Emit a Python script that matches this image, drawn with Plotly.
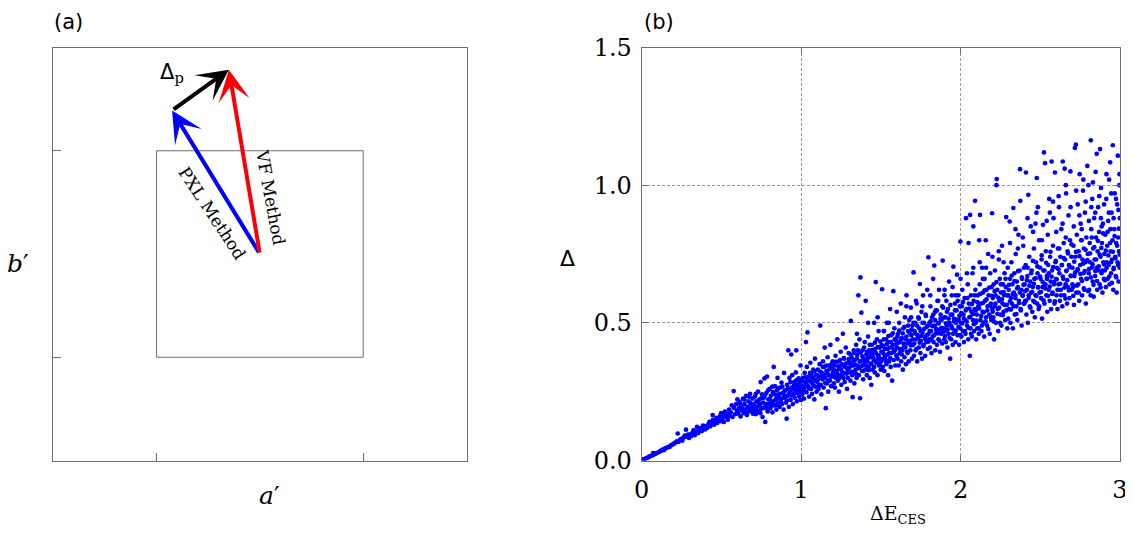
import plotly.graph_objects as go

# the page adds an 8px body margin, so the figure is drawn 8px smaller and
# every target pixel position is shifted by that offset
OFF = 8
W, H = 1133 - OFF, 540 - OFF

# ---------------- data: panel (b) scatter ----------------
pts_0 = [
    (0.005,0.002),(0.012,0.004),(0.02,0.006),(0.028,0.008),(0.035,0.01),(0.043,0.012),(0.05,0.015),
    (0.06,0.017),(0.068,0.019),(0.07,0.02),(0.072,0.027),(0.075,0.022),(0.078,0.025),(0.082,0.024),
    (0.09,0.026),(0.097,0.028),
    (0.11,0.031),(0.118,0.035),(0.125,0.036),(0.13,0.04),(0.14,0.038),(0.145,0.043),(0.152,0.045),
    (0.16,0.047),(0.168,0.05),(0.175,0.049),(0.183,0.055),(0.19,0.057),(0.198,0.06),
    (0.205,0.062),(0.213,0.066),(0.22,0.07),(0.226,0.098),(0.232,0.068),(0.24,0.075),(0.248,0.079),
    (0.255,0.072),(0.262,0.083),(0.27,0.09),(0.278,0.112),(0.283,0.086),(0.29,0.094),(0.297,0.082),
    (0.305,0.095),(0.31,0.088),(0.318,0.1),(0.325,0.11),(0.333,0.092),(0.34,0.105),(0.347,0.122),
    (0.355,0.1),(0.362,0.112),(0.37,0.118),(0.377,0.107),(0.385,0.127),(0.392,0.12),(0.398,0.113),
    (0.405,0.125),(0.41,0.118),(0.418,0.132),(0.425,0.14),(0.43,0.124),(0.438,0.135),(0.445,0.165),
    (0.447,0.148),(0.455,0.13),(0.462,0.142),(0.468,0.155),(0.475,0.137),(0.482,0.15),(0.49,0.16),
    (0.495,0.143),(0.498,0.172),
    (0.505,0.152),(0.51,0.165),(0.515,0.14),(0.522,0.178),(0.528,0.158),(0.535,0.17),(0.54,0.148),
    (0.548,0.185),(0.552,0.162),(0.558,0.175),(0.565,0.2),(0.57,0.158),(0.577,0.252),(0.58,0.19),
    (0.585,0.168),(0.592,0.205),(0.598,0.18),(0.6,0.222),
]
pts_1 = [
    (0.605,0.17),(0.61,0.19),(0.615,0.213),(0.62,0.16),(0.626,0.182),(0.63,0.198),(0.636,0.225),
    (0.64,0.172),(0.645,0.205),(0.65,0.185),(0.655,0.235),(0.66,0.165),(0.664,0.195),(0.67,0.215),
    (0.675,0.178),(0.68,0.242),(0.685,0.2),(0.69,0.188),(0.695,0.225),(0.698,0.17),
    (0.702,0.205),(0.706,0.185),(0.71,0.232),(0.715,0.168),(0.72,0.215),(0.724,0.195),(0.73,0.25),
    (0.733,0.178),(0.738,0.222),(0.742,0.2),(0.746,0.285),(0.75,0.188),(0.755,0.24),(0.758,0.158),
    (0.762,0.21),(0.766,0.228),(0.77,0.298),(0.775,0.14),(0.778,0.195),(0.782,0.245),(0.786,0.305),
    (0.79,0.178),(0.794,0.222),(0.798,0.205),
    (0.802,0.26),(0.806,0.19),(0.81,0.235),(0.815,0.212),(0.82,0.175),(0.823,0.248),(0.828,0.34),
    (0.832,0.2),(0.836,0.27),(0.84,0.222),(0.845,0.185),(0.848,0.255),(0.852,0.3),(0.856,0.21),
    (0.86,0.238),(0.865,0.195),(0.868,0.265),(0.872,0.225),(0.877,0.283),(0.88,0.205),(0.885,0.245),
    (0.89,0.185),(0.893,0.318),(0.897,0.23),
    (0.902,0.255),(0.905,0.21),(0.909,0.152),(0.912,0.275),(0.916,0.235),(0.92,0.4),(0.923,0.195),
    (0.927,0.3),(0.93,0.248),(0.934,0.22),(0.938,0.385),(0.94,0.265),(0.944,0.31),(0.948,0.205),
    (0.952,0.24),(0.956,0.285),(0.96,0.228),(0.963,0.26),(0.967,0.32),(0.97,0.4),(0.973,0.215),
    (0.977,0.275),(0.98,0.245),(0.984,0.298),(0.988,0.232),(0.992,0.262),(0.996,0.345),(0.999,0.22),
    (1.003,0.27),(1.007,0.24),(1.01,0.3),(1.014,0.255),(1.018,0.225),(1.022,0.318),(1.025,0.285),
    (1.03,0.43),(1.033,0.248),(1.036,0.34),(1.04,0.465),(1.043,0.27),(1.047,0.305),(1.05,0.232),
    (1.054,0.29),(1.058,0.355),(1.062,0.26),(1.065,0.315),(1.069,0.242),(1.072,0.278),(1.076,0.33),
    (1.08,0.295),(1.083,0.222),(1.087,0.37),(1.09,0.268),(1.094,0.31),(1.097,0.25),
    (1.102,0.285),(1.105,0.33),(1.109,0.26),(1.112,0.305),(1.116,0.35),(1.12,0.49),(1.123,0.275),
    (1.127,0.24),(1.13,0.318),(1.134,0.295),(1.137,0.36),(1.141,0.265),(1.145,0.34),(1.148,0.41),
    (1.152,0.3),(1.155,0.19),(1.159,0.325),(1.162,0.28),(1.166,0.375),(1.17,0.25),(1.173,0.31),
    (1.177,0.345),(1.18,0.29),(1.184,0.42),(1.188,0.27),(1.191,0.335),(1.195,0.305),(1.198,0.36),
]
pts_2 = [
    (1.202,0.31),(1.205,0.28),(1.209,0.345),(1.212,0.265),(1.216,0.38),(1.22,0.3),(1.223,0.325),
    (1.227,0.44),(1.23,0.29),(1.234,0.36),(1.237,0.25),(1.241,0.335),(1.245,0.31),(1.248,0.395),
    (1.252,0.275),(1.255,0.35),(1.259,0.32),(1.262,0.46),(1.266,0.3),(1.27,0.37),(1.273,0.285),
    (1.277,0.34),(1.28,0.41),(1.284,0.315),(1.288,0.26),(1.291,0.355),(1.295,0.33),(1.298,0.39),
    (1.302,0.32),(1.305,0.355),(1.309,0.29),(1.312,0.507),(1.316,0.375),(1.32,0.31),(1.323,0.23),
    (1.327,0.345),(1.33,0.4),(1.334,0.28),(1.337,0.365),(1.341,0.33),(1.345,0.42),(1.348,0.3),
    (1.352,0.385),(1.355,0.345),(1.359,0.6),(1.362,0.31),(1.366,0.44),(1.37,0.226),(1.372,0.665),
    (1.375,0.36),(1.378,0.537),(1.382,0.325),(1.385,0.4),(1.389,0.295),(1.392,0.37),(1.396,0.35),
    (1.399,0.43),
    (1.402,0.33),(1.405,0.58),(1.409,0.385),(1.412,0.31),(1.416,0.36),(1.42,0.45),(1.423,0.34),
    (1.427,0.4),(1.43,0.3),(1.434,0.375),(1.437,0.35),(1.44,0.275),(1.444,0.42),(1.448,0.33),
    (1.451,0.39),(1.455,0.365),(1.458,0.5),(1.462,0.32),(1.465,0.405),(1.468,0.648),(1.472,0.355),
    (1.475,0.44),(1.479,0.31),(1.482,0.38),(1.486,0.47),(1.489,0.345),(1.493,0.41),(1.496,0.37),
    (1.499,0.33),
    (1.502,0.36),(1.505,0.42),(1.508,0.622),(1.512,0.34),(1.515,0.39),(1.518,0.47),(1.522,0.325),
    (1.525,0.405),(1.528,0.37),(1.532,0.44),(1.535,0.35),(1.538,0.5),(1.542,0.385),(1.545,0.31),
    (1.548,0.43),(1.552,0.36),(1.555,0.41),(1.558,0.55),(1.562,0.34),(1.565,0.455),(1.568,0.39),
    (1.571,0.29),(1.575,0.42),(1.578,0.615),(1.581,0.365),(1.585,0.48),(1.588,0.4),(1.591,0.345),
    (1.595,0.435),(1.598,0.38),
    (1.602,0.41),(1.605,0.37),(1.608,0.46),(1.612,0.345),(1.615,0.5),(1.618,0.39),(1.621,0.43),
    (1.625,0.57),(1.628,0.36),(1.631,0.445),(1.635,0.4),(1.638,0.33),(1.641,0.48),(1.645,0.415),
    (1.648,0.375),(1.651,0.52),(1.655,0.44),(1.658,0.35),(1.661,0.6),(1.665,0.425),(1.668,0.39),
    (1.671,0.47),(1.675,0.36),(1.678,0.51),(1.681,0.43),(1.685,0.4),(1.688,0.555),(1.691,0.455),
    (1.695,0.37),(1.698,0.49),
    (1.702,0.42),(1.705,0.683),(1.708,0.38),(1.711,0.47),(1.715,0.5),(1.718,0.4),(1.721,0.44),
    (1.725,0.57),(1.728,0.36),(1.731,0.455),(1.735,0.52),(1.738,0.41),(1.741,0.48),(1.745,0.641),
    (1.748,0.39),(1.751,0.435),(1.755,0.54),(1.758,0.37),(1.761,0.465),(1.765,0.6),(1.768,0.42),
    (1.771,0.5),(1.775,0.45),(1.778,0.38),(1.781,0.53),(1.785,0.43),(1.788,0.485),(1.791,0.62),
    (1.795,0.405),(1.798,0.738),(1.799,0.46),
]
pts_3 = [
    (1.802,0.44),(1.805,0.5),(1.808,0.41),(1.811,0.56),(1.815,0.47),(1.818,0.39),(1.821,0.52),
    (1.825,0.45),(1.828,0.66),(1.831,0.43),(1.835,0.708),(1.838,0.49),(1.841,0.4),(1.845,0.545),
    (1.848,0.465),(1.851,0.42),(1.855,0.58),(1.858,0.5),(1.861,0.44),(1.865,0.62),(1.868,0.475),
    (1.871,0.395),(1.875,0.53),(1.878,0.46),(1.881,0.51),(1.885,0.425),(1.888,0.726),(1.891,0.555),
    (1.895,0.48),(1.898,0.44),(1.899,0.6),
    (1.902,0.47),(1.905,0.52),(1.908,0.43),(1.911,0.58),(1.915,0.49),(1.918,0.41),(1.921,0.55),
    (1.925,0.46),(1.928,0.65),(1.931,0.5),(1.935,0.37),(1.938,0.53),(1.941,0.44),(1.945,0.6),
    (1.948,0.48),(1.951,0.42),(1.955,0.704),(1.958,0.515),(1.961,0.465),(1.965,0.57),(1.968,0.43),
    (1.971,0.5),(1.975,0.545),(1.978,0.675),(1.981,0.455),(1.985,0.6),(1.988,0.51),(1.991,0.42),
    (1.995,0.56),(1.998,0.48),(1.999,0.795),
    (2.002,0.5),(2.005,0.45),(2.008,0.56),(2.011,0.62),(2.015,0.47),(2.018,0.53),(2.021,0.43),
    (2.025,0.59),(2.028,0.51),(2.031,0.46),(2.034,0.88),(2.038,0.55),(2.041,0.49),(2.045,0.64),
    (2.048,0.44),(2.05,0.79),(2.052,0.57),(2.055,0.52),(2.058,0.38),(2.06,0.892),(2.062,0.48),
    (2.065,0.6),(2.068,0.54),(2.071,0.45),(2.075,0.68),(2.078,0.51),(2.08,0.85),(2.082,0.58),
    (2.085,0.47),(2.088,0.55),(2.091,0.943),(2.093,0.62),(2.095,0.5),(2.098,0.44),
    (2.102,0.53),(2.105,0.48),(2.108,0.6),(2.111,0.56),(2.114,0.46),(2.117,0.8),(2.12,0.64),
    (2.122,0.892),(2.125,0.51),(2.128,0.57),(2.131,0.47),(2.135,0.7),(2.138,0.54),(2.141,0.61),
    (2.144,0.5),(2.148,0.45),(2.151,0.66),(2.154,0.58),(2.158,0.8),(2.16,0.52),(2.163,0.62),
    (2.166,0.49),(2.17,0.56),(2.173,0.75),(2.176,0.6),(2.18,0.53),(2.183,0.46),(2.186,0.68),
    (2.19,0.57),(2.193,0.51),(2.196,0.63),(2.198,0.898),(2.199,0.55),
    (2.202,0.59),(2.205,0.52),(2.208,0.64),(2.21,0.44),(2.213,0.56),(2.216,0.69),(2.219,0.6),
    (2.222,0.5),(2.225,1.0),(2.227,1.022),(2.23,0.62),(2.233,0.55),(2.236,0.47),(2.24,0.73),
    (2.243,0.58),(2.246,0.66),(2.25,0.53),(2.253,0.61),(2.256,0.49),(2.26,0.78),(2.263,0.57),
    (2.266,0.64),(2.27,0.54),(2.273,0.6),(2.276,0.68),(2.28,0.51),(2.283,0.63),(2.286,0.884),
    (2.29,0.565),(2.293,0.48),(2.296,0.7),(2.298,0.6),
    (2.302,0.62),(2.305,0.55),(2.308,0.868),(2.31,0.66),(2.313,0.5),(2.316,0.59),(2.319,0.72),
    (2.322,0.57),(2.325,0.64),(2.328,0.48),(2.331,0.917),(2.334,0.61),(2.337,0.68),(2.34,0.53),
    (2.343,0.6),(2.346,0.75),(2.35,0.56),(2.353,0.65),(2.356,0.51),(2.36,0.63),(2.363,0.82),
    (2.366,0.58),(2.37,0.69),(2.373,1.058),(2.375,0.943),(2.377,0.55),(2.38,0.62),(2.383,0.49),
    (2.386,0.66),(2.39,0.6),(2.393,0.78),(2.396,0.57),(2.398,0.7),
]
pts_4 = [
    (2.402,0.64),(2.405,0.58),(2.408,0.71),(2.41,1.046),(2.413,0.53),(2.416,0.62),(2.419,0.67),
    (2.422,0.5),(2.425,0.965),(2.428,0.6),(2.431,0.74),(2.434,0.56),(2.437,0.65),(2.44,0.85),
    (2.443,0.61),(2.446,0.69),(2.45,0.54),(2.453,0.63),(2.456,0.58),(2.46,0.77),(2.463,0.66),
    (2.466,0.52),(2.47,0.6),(2.473,0.72),(2.476,0.9),(2.478,1.026),(2.48,0.57),(2.483,0.68),
    (2.486,0.63),(2.49,0.55),(2.493,0.8),(2.496,0.61),(2.499,0.7),
    (2.502,0.66),(2.505,0.59),(2.508,0.73),(2.511,0.515),(2.514,0.63),(2.517,0.856),(2.52,0.69),
    (2.523,1.119),(2.526,0.57),(2.53,1.08),(2.532,0.64),(2.535,0.76),(2.538,0.6),(2.541,0.67),
    (2.544,0.54),(2.547,0.82),(2.55,0.71),(2.553,0.62),(2.556,0.95),(2.559,0.58),(2.562,0.74),
    (2.565,0.65),(2.568,0.55),(2.571,1.086),(2.574,0.69),(2.577,0.61),(2.58,0.78),(2.583,0.88),
    (2.586,0.64),(2.589,0.57),(2.592,1.046),(2.595,0.72),(2.598,0.66),
    (2.602,0.6),(2.605,0.7),(2.608,0.55),(2.611,0.77),(2.614,0.64),(2.617,0.92),(2.62,0.68),
    (2.623,0.58),(2.626,0.74),(2.629,0.62),(2.632,0.84),(2.635,0.71),(2.638,0.56),(2.641,1.086),
    (2.644,0.66),(2.647,0.79),(2.65,0.6),(2.653,1.06),(2.656,0.73),(2.659,0.64),(2.662,0.97),
    (2.665,0.69),(2.668,0.57),(2.671,0.76),(2.674,0.63),(2.677,0.89),(2.68,0.71),(2.683,0.59),
    (2.686,0.8),(2.689,1.05),(2.692,0.67),(2.695,0.74),(2.698,0.62),
    (2.702,0.7),(2.705,0.63),(2.708,0.78),(2.711,0.565),(2.714,0.67),(2.717,1.135),(2.72,0.74),
    (2.723,1.147),(2.726,0.61),(2.729,0.82),(2.732,0.69),(2.735,0.93),(2.738,0.64),(2.741,0.76),
    (2.744,0.58),(2.747,1.04),(2.75,0.71),(2.753,0.86),(2.756,0.66),(2.759,0.8),(2.762,0.6),
    (2.765,0.73),(2.768,0.98),(2.771,0.68),(2.774,0.77),(2.777,0.62),(2.78,0.9),(2.783,0.72),
    (2.786,0.57),(2.789,0.81),(2.792,0.66),(2.795,1.07),(2.798,0.75),
    (2.802,1.0),(2.804,0.68),(2.807,0.62),(2.81,0.79),(2.813,0.72),(2.816,0.6),(2.817,1.163),
    (2.82,0.84),(2.823,0.7),(2.826,0.95),(2.829,0.65),(2.832,0.77),(2.835,0.595),(2.838,0.88),
    (2.841,0.73),(2.844,0.67),(2.847,1.048),(2.85,0.81),(2.853,0.7),(2.854,1.114),(2.857,0.62),
    (2.86,0.76),(2.863,0.92),(2.866,0.69),(2.869,0.83),(2.872,0.64),(2.875,1.131),(2.878,0.74),
    (2.881,0.99),(2.884,0.68),(2.887,0.79),(2.89,0.61),(2.893,0.86),(2.896,0.72),(2.899,0.66),
    (2.902,0.75),(2.905,0.69),(2.908,0.82),(2.911,0.63),(2.914,0.95),(2.917,0.72),(2.92,0.78),
    (2.923,0.66),(2.926,0.87),(2.929,0.71),(2.932,1.02),(2.935,0.64),(2.938,1.083),(2.941,0.76),
    (2.944,0.68),(2.947,0.9),(2.95,0.73),(2.953,0.8),(2.955,1.145),(2.958,0.62),(2.961,0.7),
    (2.964,0.84),(2.967,0.97),(2.97,0.74),(2.973,0.67),(2.976,0.79),(2.979,0.61),(2.982,0.93),
    (2.985,0.72),(2.986,1.107),(2.988,0.81),(2.991,0.65),(2.994,0.76),(2.996,1.0),(2.998,0.7),
    (2.999,0.88),
]
# denser core of the band
core_a = [
    (0.633,0.188),(0.618,0.205),(0.652,0.172),(0.644,0.221),(0.668,0.191),(0.681,0.209),(0.673,0.232),
    (0.692,0.178),(0.709,0.198),(0.723,0.18),(0.716,0.242),(0.736,0.208),(0.751,0.226),(0.744,0.172),
    (0.763,0.191),(0.772,0.236),(0.781,0.205),(0.793,0.255),(0.788,0.186),(0.804,0.222),(0.812,0.198),
    (0.819,0.268),(0.827,0.215),(0.838,0.239),(0.843,0.201),(0.851,0.226),(0.858,0.262),(0.866,0.242),
    (0.874,0.214),(0.882,0.268),(0.889,0.228),(0.895,0.252),(0.903,0.235),(0.911,0.218),(0.918,0.262),
    (0.925,0.242),(0.932,0.285),(0.939,0.236),(0.946,0.258),(0.955,0.272),(0.962,0.246),(0.969,0.291),
    (0.975,0.258),(0.983,0.268),(0.991,0.285),(0.997,0.252),(1.004,0.288),(1.012,0.272),(1.019,0.262),
    (1.027,0.302),(1.035,0.276),(1.041,0.291),(1.049,0.262),(1.056,0.318),(1.063,0.285),(1.071,0.302),
    (1.078,0.271),(1.085,0.325),(1.092,0.29),(1.099,0.31),(1.107,0.296),(1.114,0.272),(1.121,0.322),
    (1.128,0.305),(1.136,0.34),(1.143,0.312),(1.151,0.282),(1.158,0.345),(1.164,0.318),(1.171,0.29),
    (1.179,0.332),(1.186,0.305),(1.193,0.352),(1.199,0.318),
    (1.206,0.33),(1.214,0.302),(1.219,0.358),(1.226,0.315),(1.233,0.342),(1.239,0.298),(1.244,0.365),
    (1.251,0.33),(1.257,0.305),(1.263,0.345),(1.268,0.372),(1.275,0.318),(1.281,0.352),(1.287,0.335),
    (1.293,0.3),(1.299,0.368),(1.304,0.338),(1.311,0.385),(1.317,0.345),(1.322,0.322),(1.328,0.362),
    (1.333,0.39),(1.339,0.348),(1.344,0.315),(1.35,0.372),(1.356,0.4),(1.361,0.335),(1.367,0.36),
    (1.373,0.392),(1.379,0.342),(1.384,0.378),(1.39,0.325),(1.395,0.41),(1.401,0.362),(1.407,0.345),
    (1.413,0.395),(1.418,0.372),(1.424,0.328),(1.43,0.42),(1.435,0.386),(1.441,0.352),(1.447,0.401),
    (1.452,0.375),(1.458,0.34),(1.463,0.428),(1.469,0.39),(1.474,0.365),(1.48,0.412),(1.486,0.382),
    (1.491,0.35),(1.497,0.432),(1.503,0.395),(1.508,0.368),(1.514,0.415),(1.519,0.44),(1.525,0.38),
    (1.531,0.362),(1.536,0.422),(1.542,0.405),(1.547,0.452),(1.553,0.39),(1.559,0.372),(1.564,0.43),
    (1.57,0.41),(1.575,0.462),(1.581,0.395),(1.587,0.44),(1.592,0.42),(1.598,0.382),(1.603,0.45),
    (1.609,0.428),(1.615,0.472),(1.62,0.405),(1.626,0.44),(1.632,0.385),(1.637,0.462),(1.643,0.425),
    (1.648,0.485),(1.654,0.41),(1.66,0.45),(1.665,0.395),(1.671,0.49),(1.677,0.435),(1.682,0.462),
    (1.688,0.418),(1.693,0.475),(1.699,0.44),(1.705,0.5),(1.71,0.425),(1.716,0.462),(1.722,0.405),
    (1.727,0.49),(1.733,0.445),(1.738,0.515),(1.744,0.428),(1.75,0.47),(1.755,0.452),(1.761,0.5),
    (1.767,0.415),(1.772,0.478),(1.778,0.442),(1.783,0.525),(1.789,0.455),(1.795,0.49),(1.8,0.432),
]
core_b = [
    (1.806,0.47),(1.812,0.505),(1.817,0.44),(1.823,0.488),(1.829,0.53),(1.834,0.455),(1.84,0.51),
    (1.846,0.478),(1.851,0.545),(1.857,0.462),(1.863,0.498),(1.868,0.435),(1.874,0.515),(1.88,0.482),
    (1.885,0.56),(1.891,0.468),(1.897,0.52),(1.902,0.452),(1.908,0.498),(1.914,0.54),(1.919,0.475),
    (1.925,0.515),(1.931,0.445),(1.936,0.565),(1.942,0.488),(1.948,0.53),(1.953,0.46),(1.959,0.505),
    (1.965,0.545),(1.97,0.472),(1.976,0.512),(1.982,0.58),(1.987,0.485),(1.993,0.525),(1.998,0.455),
    (2.004,0.535),(2.01,0.498),(2.015,0.575),(2.021,0.515),(2.027,0.47),(2.032,0.545),(2.038,0.505),
    (2.044,0.59),(2.049,0.482),(2.055,0.552),(2.061,0.522),(2.066,0.46),(2.072,0.568),(2.078,0.532),
    (2.083,0.495),(2.089,0.6),(2.095,0.545),(2.1,0.508),(2.106,0.575),(2.112,0.48),(2.117,0.552),
    (2.123,0.605),(2.129,0.525),(2.134,0.49),(2.14,0.572),(2.146,0.538),(2.151,0.618),(2.157,0.505),
    (2.163,0.585),(2.168,0.545),(2.174,0.478),(2.18,0.628),(2.185,0.562),(2.191,0.52),(2.197,0.598),
    (2.202,0.54),(2.208,0.505),(2.214,0.615),(2.219,0.57),(2.225,0.648),(2.231,0.532),(2.236,0.592),
    (2.242,0.555),(2.248,0.5),(2.253,0.64),(2.259,0.585),(2.265,0.528),(2.27,0.612),(2.276,0.565),
    (2.282,0.66),(2.287,0.545),(2.293,0.6),(2.299,0.515),(2.304,0.638),(2.31,0.578),(2.316,0.548),
    (2.321,0.672),(2.327,0.605),(2.333,0.56),(2.338,0.652),(2.344,0.59),(2.35,0.532),(2.355,0.625),
    (2.361,0.688),(2.367,0.572),(2.372,0.61),(2.378,0.545),(2.384,0.665),(2.389,0.598),(2.395,0.638),
    (2.4,0.57),
    (2.405,0.615),(2.41,0.58),(2.416,0.655),(2.421,0.7),(2.427,0.59),(2.432,0.635),(2.438,0.555),
    (2.443,0.68),(2.449,0.612),(2.454,0.725),(2.46,0.642),(2.465,0.575),(2.471,0.662),(2.476,0.598),
    (2.482,0.705),(2.487,0.628),(2.493,0.56),(2.498,0.668),(2.504,0.612),(2.509,0.745),(2.515,0.648),
    (2.52,0.582),(2.526,0.69),(2.531,0.625),(2.537,0.718),(2.542,0.66),(2.548,0.598),(2.553,0.68),
    (2.559,0.632),(2.564,0.758),(2.57,0.668),(2.575,0.605),(2.581,0.702),(2.586,0.648),(2.592,0.578),
    (2.597,0.725),(2.603,0.658),(2.608,0.62),(2.614,0.695),(2.619,0.77),(2.625,0.642),(2.63,0.6),
    (2.636,0.71),(2.641,0.668),(2.647,0.735),(2.652,0.628),(2.658,0.588),(2.663,0.688),(2.669,0.655),
    (2.674,0.752),(2.68,0.618),(2.685,0.702),(2.691,0.672),(2.696,0.785),(2.702,0.64),(2.707,0.598),
    (2.713,0.722),(2.718,0.682),(2.724,0.758),(2.729,0.635),(2.735,0.695),(2.74,0.61),(2.746,0.742),
    (2.751,0.678),(2.757,0.8),(2.762,0.652),(2.768,0.715),(2.773,0.625),(2.779,0.688),(2.784,0.765),
    (2.79,0.66),(2.795,0.728),(2.801,0.615),(2.806,0.695),(2.812,0.752),(2.817,0.665),(2.823,0.81),
    (2.828,0.712),(2.834,0.638),(2.839,0.775),(2.845,0.688),(2.85,0.73),(2.856,0.652),(2.861,0.798),
    (2.867,0.705),(2.872,0.748),(2.878,0.628),(2.883,0.772),(2.889,0.69),(2.894,0.825),(2.9,0.712),
    (2.905,0.655),(2.911,0.762),(2.916,0.7),(2.922,0.83),(2.927,0.745),(2.933,0.668),(2.938,0.79),
    (2.944,0.72),(2.949,0.645),(2.955,0.758),(2.96,0.695),(2.966,0.815),(2.971,0.735),(2.977,0.665),
    (2.982,0.78),(2.988,0.71),(2.993,0.842),(2.998,0.748),
]
# sparser points above the core
upper = [
    (2.31,0.79),(2.345,0.84),(2.39,0.81),(2.42,0.88),(2.455,0.83),(2.485,0.92),(2.51,0.8),(2.54,0.87),
    (2.56,0.9),(2.6,0.83),(2.615,0.96),(2.64,0.86),(2.66,0.81),(2.69,0.92),(2.71,0.85),(2.725,0.98),
    (2.745,0.89),(2.76,0.84),(2.785,0.94),(2.805,0.87),(2.82,0.92),(2.83,1.01),(2.845,0.9),(2.87,0.96),
    (2.885,0.85),(2.9,0.93),(2.915,1.04),(2.93,0.9),(2.945,0.97),(2.96,0.88),(2.975,0.95),(2.99,0.91),
    (2.997,1.04),(2.94,0.84),(2.88,0.88),(2.77,1.02),(2.66,1.0),(2.58,0.94),(2.47,0.86),(2.36,0.77),
    (1.42,0.5),(1.48,0.52),(1.55,0.5),(1.6,0.54),(1.66,0.56),(1.72,0.58),(1.76,0.56),(1.81,0.6),
    (1.86,0.58),(1.9,0.62),(1.95,0.63),(2.0,0.66),(2.04,0.68),(2.08,0.7),(2.12,0.72),(2.16,0.7),
    (2.2,0.74),(2.24,0.76),(2.27,0.72),(2.14,0.66),(1.97,0.6),(1.84,0.54),(1.69,0.52),(1.52,0.47),
    (1.35,0.46),
]

x_ticks_b = [0, 1, 2, 3]
x_ticklabels_b = ["0", "1", "2", "3"]
y_ticks_b = [0, 0.5, 1.0, 1.5]
y_ticklabels_b = ["0.0", "0.5", "1.0", "1.5"]

# ---------------- data: panel (a) schematic ----------------
outer_range = [0, 4]
inner_square = [1, 3]          # inner square spans 1..3 on both axes
origin = (2.0, 2.0)            # common start of both method arrows
pxl_tip = (1.15, 3.39)         # PXL method arrow tip
vf_tip = (1.70, 3.785)         # VF method arrow tip

# ---------------- helpers (target screen pixels -> paper fractions) ----------------
def px_x(px):
    return (px - OFF) / W

def px_y(py):
    return 1 - (py - OFF) / H

SERIF = "DejaVu Serif"
SANS = "DejaVu Sans"

all_pts = pts_0 + pts_1 + pts_2 + pts_3 + pts_4 + core_a + core_b + upper
xs = [p[0] for p in all_pts]
ys = [p[1] for p in all_pts]

fig = go.Figure()

fig.add_trace(go.Scatter(
    x=xs, y=ys, mode="markers", xaxis="x2", yaxis="y2",
    marker=dict(color="#0000ff", size=4.7, line=dict(width=0)),
    showlegend=False, hoverinfo="skip",
))

sq = inner_square
fig.add_trace(go.Scatter(
    x=[sq[0], sq[1], sq[1], sq[0], sq[0]],
    y=[sq[0], sq[0], sq[1], sq[1], sq[0]],
    mode="lines", line=dict(color="#6e6e6e", width=1),
    xaxis="x", yaxis="y", showlegend=False, hoverinfo="skip",
))

dom_y = [px_y(460.5), px_y(47.5)]

fig.update_layout(
    width=W, height=H,
    margin=dict(l=0, r=0, t=0, b=0, pad=0, autoexpand=False),
    paper_bgcolor="white", plot_bgcolor="white",
    showlegend=False,
    xaxis=dict(
        domain=[px_x(53.3), px_x(466.5)], range=outer_range,
        showgrid=False, zeroline=False, showline=True, mirror=True,
        linecolor="#6e6e6e", linewidth=1,
        tickvals=inner_square, ticks="inside", ticklen=8, tickcolor="#6e6e6e",
        showticklabels=False, fixedrange=True,
    ),
    yaxis=dict(
        domain=dom_y, range=outer_range,
        showgrid=False, zeroline=False, showline=True, mirror=True,
        linecolor="#6e6e6e", linewidth=1,
        tickvals=inner_square, ticks="inside", ticklen=8, tickcolor="#6e6e6e",
        showticklabels=False, fixedrange=True,
    ),
    xaxis2=dict(
        domain=[px_x(641.7), px_x(1120)], range=[0, 3], anchor="y2",
        showgrid=True, gridcolor="#9a9a9a", griddash="3px,2px", gridwidth=0.7,
        zeroline=False, showline=True, mirror="ticks", linecolor="#6e6e6e", linewidth=1,
        tickvals=x_ticks_b, ticktext=x_ticklabels_b,
        ticks="inside", ticklen=6, tickcolor="#6e6e6e",
        tickfont=dict(family=SERIF, size=24, color="black"),
        ticklabelstandoff=8,
    ),
    yaxis2=dict(
        domain=dom_y, range=[0, 1.5], anchor="x2",
        showgrid=True, gridcolor="#9a9a9a", griddash="3px,2px", gridwidth=0.7,
        zeroline=False, showline=True, mirror="ticks", linecolor="#6e6e6e", linewidth=1,
        tickvals=y_ticks_b, ticktext=y_ticklabels_b,
        ticks="inside", ticklen=6, tickcolor="#6e6e6e",
        tickfont=dict(family=SERIF, size=24, color="black"),
        ticklabelstandoff=4,
    ),
)

ann = []
def arrow(tip, tail, color):
    return dict(
        x=tip[0], y=tip[1], ax=tail[0], ay=tail[1],
        xref="x", yref="y", axref="x", ayref="y",
        showarrow=True, arrowhead=3, arrowsize=1.3, arrowwidth=4,
        arrowcolor=color, text="", standoff=0, startstandoff=0,
    )

ann.append(arrow(pxl_tip, origin, "#0000ff"))
ann.append(arrow(vf_tip, origin, "#ff0000"))
ann.append(arrow(vf_tip, pxl_tip, "#000000"))

ann += [
    dict(x=1.537, y=2.397, xref="x", yref="y", text="PXL Method", showarrow=False,
         textangle=56.5, font=dict(family=SERIF, size=17, color="black"),
         xanchor="center", yanchor="middle"),
    dict(x=2.10, y=2.55, xref="x", yref="y", text="VF Method", showarrow=False,
         textangle=79.5, font=dict(family=SERIF, size=17, color="black"),
         xanchor="center", yanchor="middle"),
    dict(x=px_x(158), y=px_y(73), xref="paper", yref="paper",
         text='<span style="font-family:DejaVu Sans">Δ</span><sub>p</sub>',
         showarrow=False, xanchor="left", yanchor="middle",
         font=dict(family=SERIF, size=21, color="black")),
    dict(x=px_x(68), y=px_y(22), xref="paper", yref="paper", text="(a)", showarrow=False,
         font=dict(family=SANS, size=21, color="black"),
         xanchor="center", yanchor="middle"),
    dict(x=px_x(659), y=px_y(22), xref="paper", yref="paper", text="(b)", showarrow=False,
         font=dict(family=SANS, size=21, color="black"),
         xanchor="center", yanchor="middle"),
    dict(x=px_x(18), y=px_y(263), xref="paper", yref="paper", text="<i>b</i>′", showarrow=False,
         font=dict(family=SERIF, size=25, color="black"), xanchor="center", yanchor="middle"),
    dict(x=px_x(269), y=px_y(495), xref="paper", yref="paper", text="<i>a</i>′", showarrow=False,
         font=dict(family=SERIF, size=25, color="black"), xanchor="center", yanchor="middle"),
    dict(x=px_x(567), y=px_y(258), xref="paper", yref="paper", text="Δ", showarrow=False,
         font=dict(family=SANS, size=22, color="black"), xanchor="center", yanchor="middle"),
    dict(x=px_x(868), y=px_y(514), xref="paper", yref="paper",
         text='ΔE<sub><span style="font-size:13px">CES</span></sub>', showarrow=False,
         font=dict(family=SERIF, size=19, color="black"), xanchor="left", yanchor="middle"),
]
fig.update_layout(annotations=ann)

fig.write_html("out.html")
